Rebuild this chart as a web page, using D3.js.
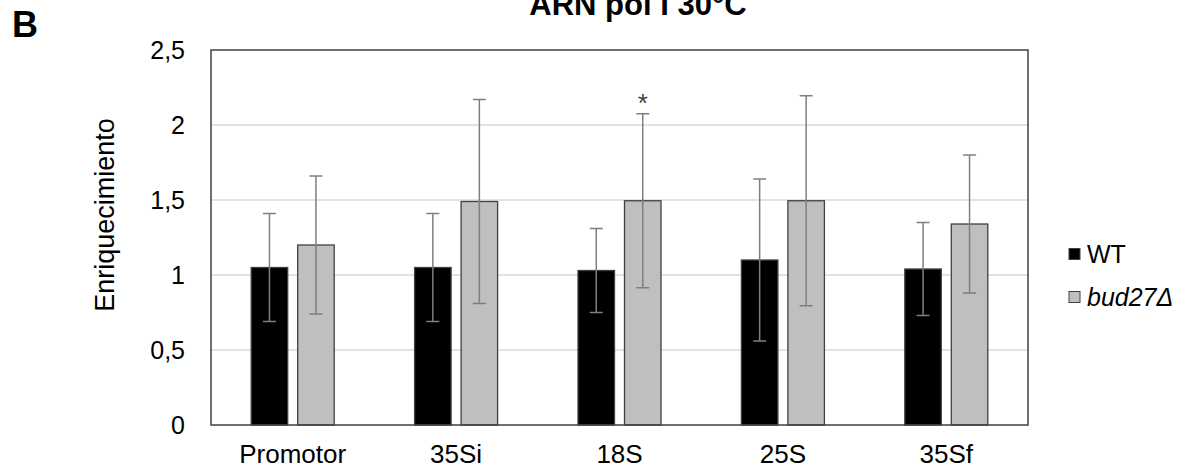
<!DOCTYPE html>
<html>
<head>
<meta charset="utf-8">
<script src="https://cdn.jsdelivr.net/npm/d3@7"></script>
<style>
  html, body { margin: 0; padding: 0; background: #fff; }
  svg { display: block; font-family: "Liberation Sans", Arial, sans-serif; }
</style>
</head>
<body>
<svg id="chart" width="1185" height="472"></svg>
<script>
// ---- data ----
const categories = ["Promotor", "35Si", "18S", "25S", "35Sf"];
const seriesNames = ["WT", "bud27Δ"];
const wtValues = [1.05, 1.05, 1.03, 1.10, 1.04];
const budValues = [1.20, 1.49, 1.495, 1.495, 1.34];
const wtErrors = [0.36, 0.36, 0.28, 0.54, 0.31];
const budErrors = [0.46, 0.68, 0.58, 0.70, 0.46];
const budSignificance = ["", "", "*", "", ""];
const yTicks = [0, 0.5, 1, 1.5, 2, 2.5];
const yTickLabels = ["0", "0,5", "1", "1,5", "2", "2,5"];
const titleText = "ARN pol I 30°C";
const panelLetter = "B";
const yLabel = "Enriquecimiento";

// ---- layout ----
const svg = d3.select("#chart");
const plot = { left: 211, right: 1028, top: 50, bottom: 425 };
const FONT = 25;

const x0 = d3.scaleBand().domain(categories).range([plot.left, plot.right]).paddingInner(0).paddingOuter(0);
const pairHalf = 41.5;
const x1 = d3.scaleBand().domain(seriesNames)
  .range([x0.bandwidth() / 2 - pairHalf, x0.bandwidth() / 2 + pairHalf])
  .paddingInner(0.215).paddingOuter(0);
const y = d3.scaleLinear().domain([0, 2.5]).range([plot.bottom, plot.top]);

const fills = { "WT": "#000000", "bud27Δ": "#bfbfbf" };

// gridlines
svg.append("g").selectAll("line").data(yTicks.filter(t => t > 0 && t < 2.5)).join("line")
  .attr("x1", plot.left).attr("x2", plot.right)
  .attr("y1", d => y(d)).attr("y2", d => y(d))
  .attr("stroke", "#d9d9d9").attr("stroke-width", 1.5);

// y axis labels via d3 axis
const yAxis = d3.axisLeft(y).tickValues(yTicks)
  .tickFormat((d, i) => yTickLabels[i]).tickSize(0).tickPadding(26);
const gy = svg.append("g").attr("transform", `translate(${plot.left},0)`).call(yAxis);
gy.select(".domain").remove();
gy.selectAll("text").attr("font-size", FONT).attr("fill", "#000")
  .attr("font-family", "Liberation Sans, Arial, sans-serif");

// bars
const rows = categories.map((c, i) => ({
  cat: c,
  items: [
    { s: "WT", v: wtValues[i], e: wtErrors[i], sig: "" },
    { s: "bud27Δ", v: budValues[i], e: budErrors[i], sig: budSignificance[i] }
  ]
}));

const groups = svg.append("g").selectAll("g").data(rows).join("g")
  .attr("transform", d => `translate(${x0(d.cat)},0)`);

groups.selectAll("rect").data(d => d.items).join("rect")
  .attr("x", d => x1(d.s)).attr("width", x1.bandwidth())
  .attr("y", d => y(d.v)).attr("height", d => y(0) - y(d.v))
  .attr("fill", d => fills[d.s])
  .attr("stroke", "#404040").attr("stroke-width", 1.3);

// error bars
const capHalf = 6.5;
const eb = groups.selectAll("g.err").data(d => d.items).join("g").attr("class", "err");
eb.append("line")
  .attr("x1", d => x1(d.s) + x1.bandwidth() / 2).attr("x2", d => x1(d.s) + x1.bandwidth() / 2)
  .attr("y1", d => y(d.v - d.e)).attr("y2", d => y(d.v + d.e))
  .attr("stroke", "#7f7f7f").attr("stroke-width", 1.5);
eb.append("line")
  .attr("x1", d => x1(d.s) + x1.bandwidth() / 2 - capHalf).attr("x2", d => x1(d.s) + x1.bandwidth() / 2 + capHalf)
  .attr("y1", d => y(d.v + d.e)).attr("y2", d => y(d.v + d.e))
  .attr("stroke", "#7f7f7f").attr("stroke-width", 1.5);
eb.append("line")
  .attr("x1", d => x1(d.s) + x1.bandwidth() / 2 - capHalf).attr("x2", d => x1(d.s) + x1.bandwidth() / 2 + capHalf)
  .attr("y1", d => y(d.v - d.e)).attr("y2", d => y(d.v - d.e))
  .attr("stroke", "#7f7f7f").attr("stroke-width", 1.5);

// significance
groups.selectAll("text.sig").data(d => d.items.filter(it => it.sig)).join("text")
  .attr("class", "sig")
  .attr("x", d => x1(d.s) + x1.bandwidth() / 2)
  .attr("y", d => y(d.v + d.e))
  .attr("dy", -1.5)
  .attr("text-anchor", "middle")
  .attr("font-size", 26).attr("fill", "#404040")
  .text(d => d.sig);

// plot border
svg.append("rect")
  .attr("x", plot.left).attr("y", plot.top)
  .attr("width", plot.right - plot.left).attr("height", plot.bottom - plot.top)
  .attr("fill", "none").attr("stroke", "#404040").attr("stroke-width", 1.5);

// x axis labels via d3 axis
const xAxis = d3.axisBottom(x0).tickSize(0).tickPadding(20);
const gx = svg.append("g").attr("transform", `translate(0,${plot.bottom})`).call(xAxis);
gx.select(".domain").remove();
gx.selectAll("text").attr("font-size", 26).attr("fill", "#000")
  .attr("font-family", "Liberation Sans, Arial, sans-serif");

// y label
svg.append("text")
  .attr("transform", `translate(114,215) rotate(-90)`)
  .attr("text-anchor", "middle").attr("font-size", 27).attr("fill", "#000")
  .text(yLabel);

// title
svg.append("text").attr("x", 638).attr("y", 15)
  .attr("text-anchor", "middle").attr("font-size", 31).attr("font-weight", "bold")
  .attr("fill", "#000").text(titleText);

// panel letter
svg.append("text").attr("x", 12).attr("y", 37)
  .attr("font-size", 36).attr("font-weight", "bold").attr("fill", "#000")
  .text(panelLetter);

// legend
const legendY = d3.scalePoint().domain(seriesNames).range([254, 297]);
const lg = svg.append("g").selectAll("g").data(seriesNames).join("g")
  .attr("transform", d => `translate(1069,${legendY(d)})`);
lg.append("rect").attr("x", 0).attr("y", -5.5).attr("width", 11).attr("height", 11)
  .attr("fill", d => fills[d]).attr("stroke", "#404040").attr("stroke-width", 1);
lg.append("text").attr("x", 18).attr("y", 0).attr("dy", "0.35em")
  .attr("font-size", FONT).attr("fill", "#000")
  .attr("font-style", d => d === "WT" ? "normal" : "italic")
  .text(d => d);
</script>
</body>
</html>
